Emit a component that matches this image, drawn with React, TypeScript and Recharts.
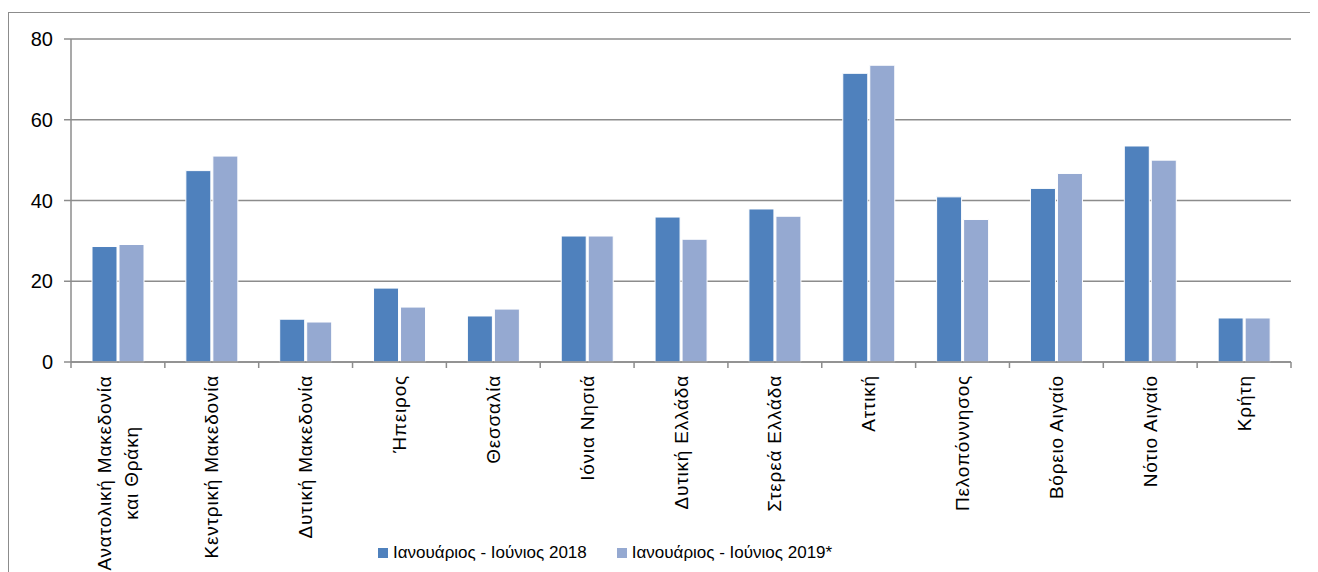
import { Bar, BarChart, CartesianGrid, XAxis, YAxis } from 'recharts'

const regions = [
  'Ανατολική Μακεδονία\nκαι Θράκη',
  'Κεντρική Μακεδονία',
  'Δυτική Μακεδονία',
  'Ήπειρος',
  'Θεσσαλία',
  'Ιόνια Νησιά',
  'Δυτική Ελλάδα',
  'Στερεά Ελλάδα',
  'Αττική',
  'Πελοπόννησος',
  'Βόρειο Αιγαίο',
  'Νότιο Αιγαίο',
  'Κρήτη',
]
const h1_2018 = [28.6, 47.4, 10.6, 18.3, 11.4, 31.2, 35.9, 37.9, 71.5, 40.9, 43.0, 53.5, 10.9]
const h1_2019 = [29.1, 51.0, 9.9, 13.6, 13.1, 31.2, 30.4, 36.1, 73.5, 35.3, 46.7, 50.0, 10.9]
const yTicks = [0, 20, 40, 60, 80]

const SERIES = [
  { key: 'y2018', name: 'Ιανουάριος - Ιούνιος 2018', color: '#4F81BD' },
  { key: 'y2019', name: 'Ιανουάριος - Ιούνιος 2019*', color: '#95A9D1' },
]

const rows = regions.map((region, i) => ({ region, y2018: h1_2018[i], y2019: h1_2019[i] }))

const WIDTH = 1310
const HEIGHT = 564
const MARGIN = { top: 31, right: 27, bottom: 0, left: 0 }
const Y_WIDTH = 63
const X_HEIGHT = 210
const PLOT_W = WIDTH - MARGIN.left - MARGIN.right - Y_WIDTH
const STEP = PLOT_W / regions.length
const FONT = '"Liberation Sans", Arial, sans-serif'
const GRID = '#8c8c8c'

// Excel-style category axis: tick marks between categories, vertical labels
function RegionTick(props: any) {
  const { x, y, payload, index } = props
  const axisY = y - 6
  const top = axisY + 13
  const lines: string[] = String(payload.value).split('\n')
  const lineH = 27
  return (
    <g>
      <line x1={x - STEP / 2} x2={x - STEP / 2} y1={axisY} y2={axisY + 6} stroke={GRID} strokeWidth={1.5} />
      {index === regions.length - 1 && (
        <line x1={x + STEP / 2} x2={x + STEP / 2} y1={axisY} y2={axisY + 6} stroke={GRID} strokeWidth={1.5} />
      )}
      {lines.map((line, i) => {
        const cx = x + (i - (lines.length - 1) / 2) * lineH
        const multi = lines.length > 1
        const ty = multi ? top + 98 : top
        return (
          <text
            key={i}
            x={cx}
            y={ty}
            transform={`rotate(-90 ${cx} ${ty})`}
            textAnchor={multi ? 'middle' : 'end'}
            dominantBaseline="central"
            fill="#000"
            fontSize={19}
            letterSpacing={0.8}
            fontFamily={FONT}
          >
            {line}
          </text>
        )
      })}
    </g>
  )
}

function LegendRow() {
  return (
    <div
      style={{
        position: 'absolute',
        top: 535,
        left: 370,
        display: 'flex',
        fontFamily: FONT,
        fontSize: 17,
        lineHeight: '20px',
        color: '#000',
      }}
    >
      {SERIES.map((s) => (
        <div key={s.key} style={{ display: 'flex', alignItems: 'center', marginRight: 30 }}>
          <span style={{ width: 10, height: 10, background: s.color, display: 'inline-block', marginRight: 5 }} />
          <span>{s.name}</span>
        </div>
      ))}
    </div>
  )
}

export default function App() {
  return (
    <div style={{ position: 'relative', width: WIDTH, height: HEIGHT, overflow: 'hidden' }}>
      <div
        style={{
          position: 'absolute',
          top: 4,
          left: 0,
          width: WIDTH + 40,
          height: HEIGHT + 40,
          borderTop: `1px solid ${GRID}`,
          borderLeft: `1px solid ${GRID}`,
        }}
      />
      <BarChart
        width={WIDTH}
        height={HEIGHT}
        data={rows}
        margin={MARGIN}
        barSize={25}
        barGap={2}
        style={{ position: 'absolute', top: 0, left: 0 }}
      >
        <CartesianGrid vertical={false} stroke={GRID} strokeWidth={1.5} />
        <XAxis
          dataKey="region"
          interval={0}
          height={X_HEIGHT}
          tickLine={false}
          tickSize={6}
          tickMargin={0}
          axisLine={{ stroke: GRID, strokeWidth: 1.5 }}
          tick={<RegionTick />}
        />
        <YAxis
          width={Y_WIDTH}
          domain={[0, 80]}
          ticks={yTicks}
          tickSize={7}
          tickMargin={11}
          axisLine={{ stroke: GRID, strokeWidth: 1.5 }}
          tickLine={{ stroke: GRID, strokeWidth: 1.5 }}
          tick={{ fill: '#000', fontSize: 20, fontFamily: FONT }}
        />
        {SERIES.map((s) => (
          <Bar
            key={s.key}
            dataKey={s.key}
            name={s.name}
            fill={s.color}
            stroke="#ffffff"
            strokeWidth={1}
            isAnimationActive={false}
          />
        ))}
      </BarChart>
      <LegendRow />
    </div>
  )
}
